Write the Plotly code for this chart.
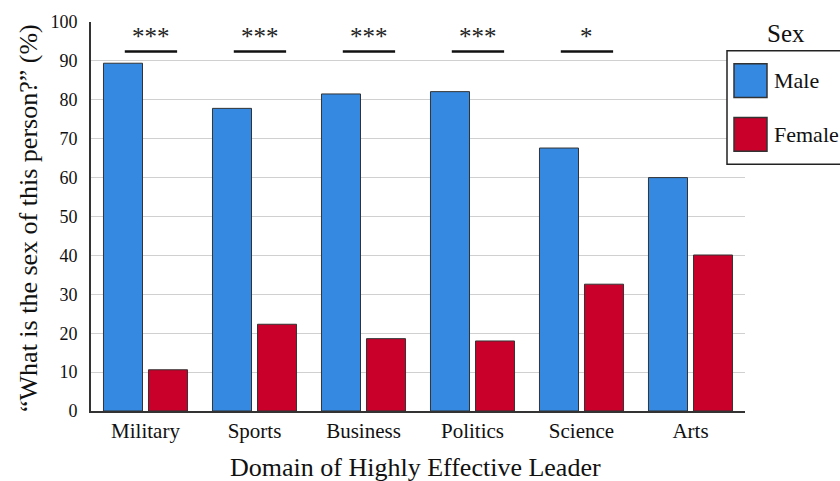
import plotly.graph_objects as go

# Share of responses by domain (%)
domains = ["Military", "Sports", "Business", "Politics", "Science", "Arts"]
male_pct = [89.4, 77.8, 81.5, 82.1, 67.6, 60.0]
female_pct = [10.6, 22.3, 18.6, 18.0, 32.6, 40.1]
significance = ["***", "***", "***", "***", "*", ""]

MALE_COLOR = "#3589E0"
FEMALE_COLOR = "#C8002A"
SERIF = "Liberation Serif"

W, H = 840, 481
M_L, M_R, M_T, M_B = 91, 95, 20, 70
PW, PH = W - M_L - M_R, H - M_T - M_B


def px_x(px):
    return (px - M_L) / PW


def px_y(py):
    return (H - M_B - py) / PH


fig = go.Figure()
fig.add_trace(go.Bar(x=domains, y=male_pct, name="Male",
                     marker=dict(color=MALE_COLOR, line=dict(color="#333333", width=1))))
fig.add_trace(go.Bar(x=domains, y=female_pct, name="Female",
                     marker=dict(color=FEMALE_COLOR, line=dict(color="#333333", width=1))))

# Significance brackets above each pair
for i, (d, s) in enumerate(zip(domains, significance)):
    if not s:
        continue
    fig.add_shape(type="line", xref="x", yref="y",
                  x0=i - 0.19, x1=i + 0.29, y0=92.4, y1=92.4,
                  line=dict(color="#111111", width=2.5))
    fig.add_annotation(x=i + 0.05, y=96.2, xref="x", yref="y", text=s,
                       showarrow=False, font=dict(family=SERIF, size=25, color="#222222"))

# Legend drawn as a boxed key with large swatches
fig.add_shape(type="rect", xref="paper", yref="paper",
              x0=px_x(727), x1=px_x(850), y0=px_y(163), y1=px_y(49),
              line=dict(color="#222222", width=1.5), fillcolor="white", layer="above")
for (label, color, top) in [("Male", MALE_COLOR, 62), ("Female", FEMALE_COLOR, 116)]:
    fig.add_shape(type="rect", xref="paper", yref="paper",
                  x0=px_x(734), x1=px_x(767), y0=px_y(top + 34), y1=px_y(top),
                  line=dict(color="#333333", width=1.5), fillcolor=color, layer="above")
    fig.add_annotation(xref="paper", yref="paper", x=px_x(772), y=px_y(top + 17),
                       text=label, showarrow=False, xanchor="left", yanchor="middle",
                       font=dict(family=SERIF, size=22, color="#111111"))
fig.add_annotation(xref="paper", yref="paper", x=px_x(786), y=px_y(32),
                   text="Sex", showarrow=False, xanchor="center", yanchor="middle",
                   font=dict(family=SERIF, size=25, color="#111111"))

# Axis titles
fig.add_annotation(xref="paper", yref="paper", x=px_x(415), y=px_y(468),
                   text="Domain of Highly Effective Leader", showarrow=False,
                   xanchor="center", yanchor="middle",
                   font=dict(family=SERIF, size=26, color="#111111"))
fig.add_annotation(xref="paper", yref="paper", x=px_x(29), y=px_y(217),
                   text="\u201cWhat is the sex of this person?\u201d (%)", showarrow=False,
                   textangle=-90, xanchor="center", yanchor="middle",
                   font=dict(family=SERIF, size=26, color="#111111"))

fig.update_layout(
    width=W, height=H,
    margin=dict(l=M_L, r=M_R, t=M_T, b=M_B, pad=0),
    paper_bgcolor="white", plot_bgcolor="white",
    barmode="group", bargap=0.174, bargroupgap=0.133,
    showlegend=False,
    font=dict(family=SERIF, color="#111111"),
)
fig.update_xaxes(showline=True, linecolor="#333333", linewidth=2, ticks="",
                 tickfont=dict(family=SERIF, size=21, color="#111111"),
                 showgrid=False, zeroline=False)
fig.update_yaxes(range=[0, 100], dtick=10, showline=True, linecolor="#333333", linewidth=2,
                 ticks="", tickfont=dict(family=SERIF, size=18, color="#111111"),
                 gridcolor="#D0D0D0", gridwidth=1, zeroline=False, ticklabelstandoff=8)

fig.write_html("out.html")
